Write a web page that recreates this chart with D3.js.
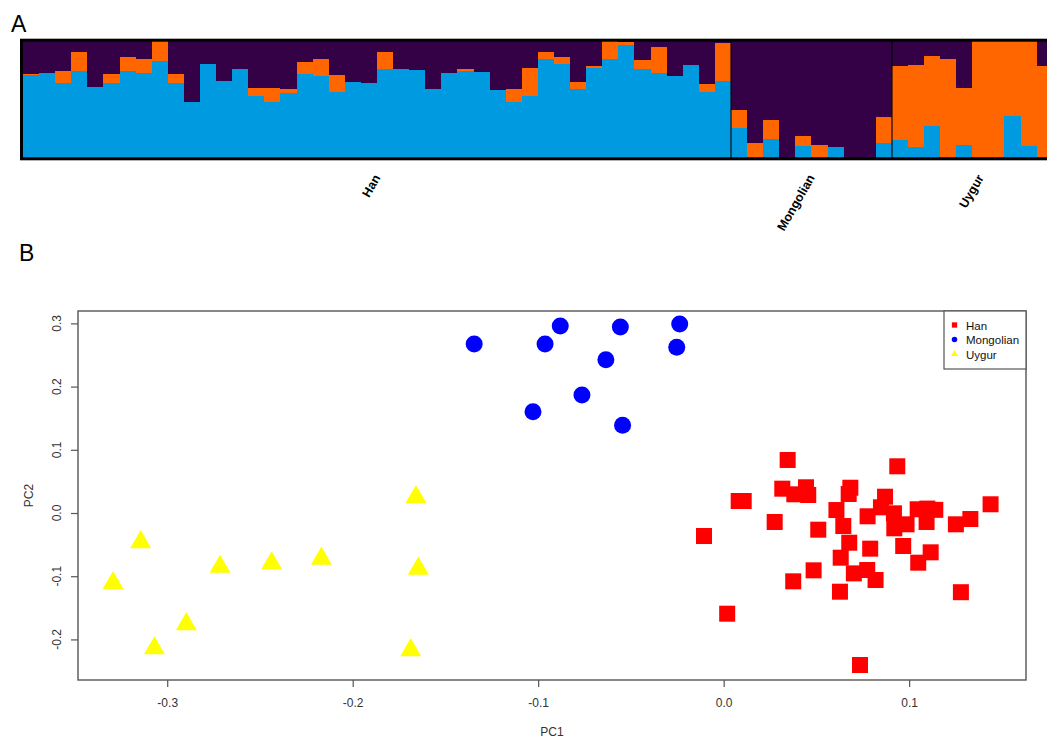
<!DOCTYPE html>
<html><head><meta charset="utf-8">
<script src="https://cdn.jsdelivr.net/npm/d3@7"></script>
<style>body{margin:0;background:#fff}svg{display:block}text{font-family:"Liberation Sans",Arial,sans-serif}</style>
</head><body><svg id="c" width="1047" height="738"></svg>
<script>
// ---------- Panel A: ancestry proportions (K=3) ----------
const popNames = ["Han", "Mongolian", "Uygur"];
// slots per population along the bar axis (the last Uygur slot lies beyond the cropped picture)
const popSlots = [44, 10, 11];
const hanBlue = [0.712,0.726,0.640,0.746,0.611,0.645,0.744,0.726,0.832,0.645,0.477,0.804,0.657,0.763,0.534,0.482,0.557,0.718,0.697,0.563,0.649,0.637,0.763,0.763,0.752,0.589,0.726,0.744,0.738,0.580,0.482,0.534,0.849,0.804,0.591,0.766,0.843,0.964,0.763,0.726,0.701,0.795,0.563,0.654];
const hanOrange = [0.009,0,0.106,0.164,0,0.075,0.115,0.120,0.168,0.075,0,0,0,0,0.062,0.120,0.032,0.106,0.146,0.143,0,0,0.144,0,0,0,0,0.014,0,0,0.107,0.238,0.058,0.057,0.060,0.023,0.157,0.026,0.071,0.220,0,0,0.069,0.327];
const hanPurple = [0.279,0.274,0.254,0.090,0.389,0.280,0.141,0.154,0.000,0.280,0.523,0.196,0.343,0.237,0.404,0.398,0.411,0.176,0.157,0.294,0.351,0.363,0.093,0.237,0.248,0.411,0.274,0.242,0.262,0.420,0.411,0.228,0.093,0.139,0.349,0.211,0.000,0.010,0.166,0.054,0.299,0.205,0.368,0.019];
const monBlue = [0.258,0,0.161,0,0.103,0,0.095,0,0,0.124];
const monOrange = [0.152,0.124,0.164,0,0.083,0.112,0,0,0,0.226];
const monPurple = [0.590,0.876,0.675,1,0.814,0.888,0.905,1,1,0.650];
const uygBlue = [0.158,0.098,0.270,0,0.115,0,0,0.356,0.103,0];
const uygOrange = [0.625,0.700,0.599,0.847,0.482,1,1,0.644,0.897,0.789];
const uygPurple = [0.217,0.202,0.131,0.153,0.403,0,0,0,0,0.211];
const clusterColors = {blue: "#009ae1", orange: "#ff6600", purple: "#340046"};

// ---------- Panel B: PCA ----------
const hanPC1 = [0.0345,0.0081,0.0108,-0.0106,0.0275,0.0316,0.0444,0.0381,0.0456,0.0510,0.0485,0.0375,0.0019,0.0936,0.0683,0.0674,0.0608,0.0645,0.0677,0.0631,0.0627,0.0702,0.0774,0.0819,0.0790,0.0776,0.0870,0.0848,0.0918,0.0920,0.0986,0.0968,0.1049,0.1116,0.1046,0.1094,0.1098,0.1141,0.1252,0.1330,0.1439,0.1279,0.0735];
const hanPC2 = [0.0839,0.0190,0.0190,-0.0364,-0.0142,0.0385,0.0407,0.0296,0.0285,-0.0264,-0.0907,-0.1081,-0.1593,0.0739,0.0400,0.0301,0.0047,-0.0206,-0.0470,-0.0707,-0.1245,-0.0955,-0.0902,-0.1060,-0.0564,-0.0052,0.0258,0.0090,-0.0005,-0.0242,-0.0179,-0.0522,-0.0786,-0.0622,0.0059,-0.0142,0.0070,0.0050,-0.0179,-0.0095,0.0138,-0.1253,-0.2405];
const monPC1 = [-0.1345,-0.0963,-0.0881,-0.0557,-0.0237,-0.0253,-0.0635,-0.0764,-0.1028,-0.0545];
const monPC2 = [0.2674,0.2674,0.2959,0.2943,0.2990,0.2621,0.2426,0.1867,0.1603,0.1387];
const uygPC1 = [-0.3143,-0.3292,-0.2715,-0.2437,-0.2169,-0.1659,-0.1646,-0.2897,-0.3069,-0.1687];
const uygPC2 = [-0.0462,-0.1108,-0.0851,-0.0795,-0.0723,0.0253,-0.0881,-0.1758,-0.2140,-0.2169];
const pc1Ticks = [-0.3, -0.2, -0.1, 0.0, 0.1];
const pc1Labels = ["-0.3", "-0.2", "-0.1", "0.0", "0.1"];
const pc2Ticks = [-0.2, -0.1, 0.0, 0.1, 0.2, 0.3];
const pc2Labels = ["-0.2", "-0.1", "0.0", "0.1", "0.2", "0.3"];
const legendNames = ["Han", "Mongolian", "Uygur"];
const pointColors = ["#ff0000", "#0000ff", "#ffff00"];

const svg = d3.select("#c");

// ===== Panel A =====
svg.append("text").attr("x", 11).attr("y", 32).attr("font-size", 23).text("A");
const blue = hanBlue.concat(monBlue, uygBlue);
const orange = hanOrange.concat(monOrange, uygOrange);
const purple = hanPurple.concat(monPurple, uygPurple);
const nSlots = d3.sum(popSlots);
const xA = d3.scaleBand().domain(d3.range(nSlots)).range([23, 23 + nSlots * 16.09]).padding(0);
const yA = d3.scaleLinear().domain([0, 1]).range([158, 41]);
const rows = blue.map((b, i) => ({i, blue: b, orange: orange[i], purple: purple[i]}));
const stacked = d3.stack().keys(["blue", "orange", "purple"])(rows);
const gA = svg.append("g");
const bx0 = i => Math.round(xA(i));
const bx1 = i => Math.round(xA(i) + xA.bandwidth());
gA.selectAll("g.layer").data(stacked).join("g").attr("class", "layer")
  .attr("fill", d => clusterColors[d.key]).attr("shape-rendering", "crispEdges")
  .selectAll("rect").data(d => d).join("rect")
  .attr("x", d => bx0(d.data.i)).attr("width", d => bx1(d.data.i) - bx0(d.data.i))
  .attr("y", d => Math.round(yA(d[1]))).attr("height", d => Math.max(0, Math.round(yA(d[0])) - Math.round(yA(d[1]))));
// population separators
let starts = [];
let acc = 0;
popSlots.forEach(s => { starts.push(acc); acc += s; });
gA.selectAll("line.sep").data(starts.slice(1)).join("line").attr("class", "sep")
  .attr("x1", d => bx0(d)).attr("x2", d => bx0(d)).attr("y1", yA(1)).attr("y2", yA(0))
  .attr("stroke", "#000").attr("stroke-width", 1.1);
// frame
const aRight = xA.range()[1];
gA.append("rect").attr("x", 21.5).attr("y", 40.2).attr("width", aRight - 21.5 + 1.5).attr("height", 118.6)
  .attr("fill", "none").attr("stroke", "#000").attr("stroke-width", 3);
// population labels
gA.selectAll("text.pop").data(popNames).join("text").attr("class", "pop")
  .attr("transform", (d, k) => {
    const cx = (xA(starts[k]) + xA(starts[k] + popSlots[k] - 1) + xA.bandwidth()) / 2;
    return `translate(${cx},175.5) rotate(-60)`;
  })
  .attr("text-anchor", "end").attr("dy", "0.35em")
  .attr("font-size", 12.5).attr("font-weight", "bold").text(d => d);

// ===== Panel B =====
svg.append("text").attr("x", 19).attr("y", 261).attr("font-size", 23).text("B");
const xB = d3.scaleLinear().domain([-0.3481, 0.1630]).range([78, 1026]);
const yB = d3.scaleLinear().domain([-0.2642, 0.3196]).range([680, 311]);
const gB = svg.append("g");
const axisCol = "#555";
// x axis
const xAx = gB.append("g").attr("transform", "translate(0,680)")
  .call(d3.axisBottom(xB).tickValues(pc1Ticks).tickSize(7).tickPadding(11)
    .tickFormat((d, i) => pc1Labels[i]));
xAx.select(".domain").remove();
xAx.selectAll(".tick line").attr("stroke", axisCol).attr("stroke-width", 1.2);
xAx.selectAll(".tick text").attr("font-size", 12).attr("fill", "#333")
  .attr("font-family", "'Liberation Sans', Arial, sans-serif");
// y axis
const yAx = gB.append("g").attr("transform", "translate(78,0)")
  .call(d3.axisLeft(yB).tickValues(pc2Ticks).tickSize(7).tickFormat(""));
yAx.select(".domain").remove();
yAx.selectAll(".tick line").attr("stroke", axisCol).attr("stroke-width", 1.2);
gB.selectAll("text.ylab").data(pc2Ticks).join("text").attr("class", "ylab")
  .attr("transform", d => `translate(61,${yB(d)}) rotate(-90)`)
  .attr("text-anchor", "middle").attr("font-size", 12).attr("fill", "#333")
  .text((d, i) => pc2Labels[i]);
// axis titles
gB.append("text").attr("x", (xB.range()[0] + xB.range()[1]) / 2).attr("y", 736)
  .attr("text-anchor", "middle").attr("font-size", 12).attr("fill", "#333").text("PC1");
gB.append("text").attr("transform", `translate(32.5,${(yB.range()[0] + yB.range()[1]) / 2}) rotate(-90)`)
  .attr("text-anchor", "middle").attr("font-size", 12).attr("fill", "#333").text("PC2");

// points
const hanPts = hanPC1.map((v, i) => [v, hanPC2[i]]);
const monPts = monPC1.map((v, i) => [v, monPC2[i]]);
const uygPts = uygPC1.map((v, i) => [v, uygPC2[i]]);
gB.selectAll("rect.han").data(hanPts).join("rect").attr("class", "han")
  .attr("x", d => xB(d[0]) - 8).attr("y", d => yB(d[1]) - 8).attr("width", 16).attr("height", 16)
  .attr("fill", pointColors[0]);
gB.selectAll("circle.mon").data(monPts).join("circle").attr("class", "mon")
  .attr("cx", d => xB(d[0])).attr("cy", d => yB(d[1])).attr("r", 8.5).attr("fill", pointColors[1]);
const tri = d3.symbol().type(d3.symbolTriangle).size(190);
gB.selectAll("path.uyg").data(uygPts).join("path").attr("class", "uyg")
  .attr("transform", d => `translate(${xB(d[0])},${yB(d[1])})`).attr("d", tri())
  .attr("fill", pointColors[2]);

// plot frame
gB.append("rect").attr("x", 78).attr("y", 311).attr("width", 1026 - 78).attr("height", 680 - 311)
  .attr("fill", "none").attr("stroke", axisCol).attr("stroke-width", 1.4);

// legend
const lg = gB.append("g");
lg.append("rect").attr("x", 944).attr("y", 311).attr("width", 82).attr("height", 58)
  .attr("fill", "#fff").attr("stroke", axisCol).attr("stroke-width", 1.2);
const legY = d3.scalePoint().domain(legendNames).range([329.5, 358.5]);
const legSym = [
  d3.symbol().type(d3.symbolSquare).size(28)(),
  d3.symbol().type(d3.symbolCircle).size(24)(),
  d3.symbol().type(d3.symbolTriangle).size(22)()
];
lg.selectAll("path.ls").data(legendNames).join("path").attr("class", "ls")
  .attr("transform", d => `translate(954.5,${legY(d) - 4.5})`)
  .attr("d", (d, i) => legSym[i]).attr("fill", (d, i) => pointColors[i]);
lg.selectAll("text.lt").data(legendNames).join("text").attr("class", "lt")
  .attr("x", 966).attr("y", d => legY(d)).attr("font-size", 11.5).attr("fill", "#111").text(d => d);
</script></body></html>
